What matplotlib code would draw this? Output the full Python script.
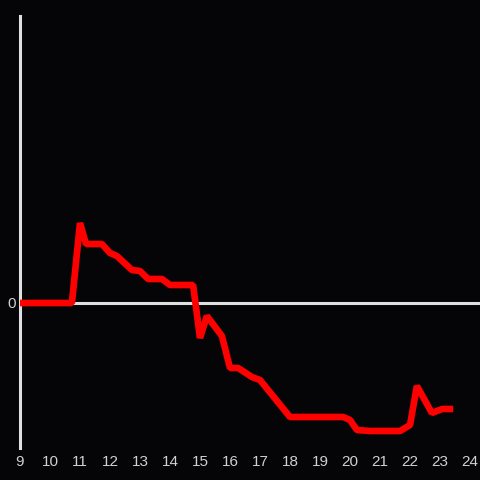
import matplotlib
matplotlib.use("Agg")
import matplotlib.pyplot as plt

hours = [9.0, 10.73, 11.0, 11.2, 11.73, 12.0, 12.23, 12.73, 13.0, 13.27, 13.73, 14.0,
         14.77, 15.0, 15.23, 15.73, 16.0, 16.27, 16.73, 17.0, 18.0, 19.77, 20.0, 20.23,
         20.67, 21.67, 22.0, 22.23, 22.73, 23.07, 23.33]
values = [0, 0, 8.0, 5.9, 5.9, 5.0, 4.7, 3.3, 3.2, 2.4, 2.4, 1.8,
          1.8, -3.5, -1.3, -3.3, -6.5, -6.5, -7.4, -7.7, -11.4, -11.4, -11.7, -12.7,
          -12.8, -12.8, -12.2, -8.3, -11.0, -10.6, -10.6]
xticks = list(range(9, 25))
yticks = [0]

bg = "#050407"
fig = plt.figure(figsize=(4.8, 4.8), dpi=100, facecolor=bg)
ax = fig.add_axes([20/480, 32/480, 460/480, 432/480])
ax.set_facecolor(bg)
ax.set_xlim(9, 24.333)
ax.set_ylim(-14.5, 28.7)

ax.axhline(0, color="#e0e0e0", lw=2.2, zorder=1)
ax.plot(hours, values, color="#ff0000", lw=4.8, solid_joinstyle="bevel",
        solid_capstyle="projecting", zorder=3)

for s in ["top", "right", "bottom"]:
    ax.spines[s].set_visible(False)
ax.spines["left"].set_color("#e0e0e0")
ax.spines["left"].set_linewidth(2.2)

ax.set_xticks(xticks)
ax.set_xticklabels([str(t) for t in xticks])
ax.set_yticks(yticks)
ax.set_yticklabels([str(t) for t in yticks])
ax.tick_params(axis="both", length=0, colors="#d0d0d0", labelsize=11)
ax.tick_params(axis="x", pad=5)
ax.tick_params(axis="y", pad=3)
for lab in ax.get_xticklabels() + ax.get_yticklabels():
    lab.set_fontfamily("Liberation Sans")

fig.savefig("out.png", dpi=100, facecolor=bg)
